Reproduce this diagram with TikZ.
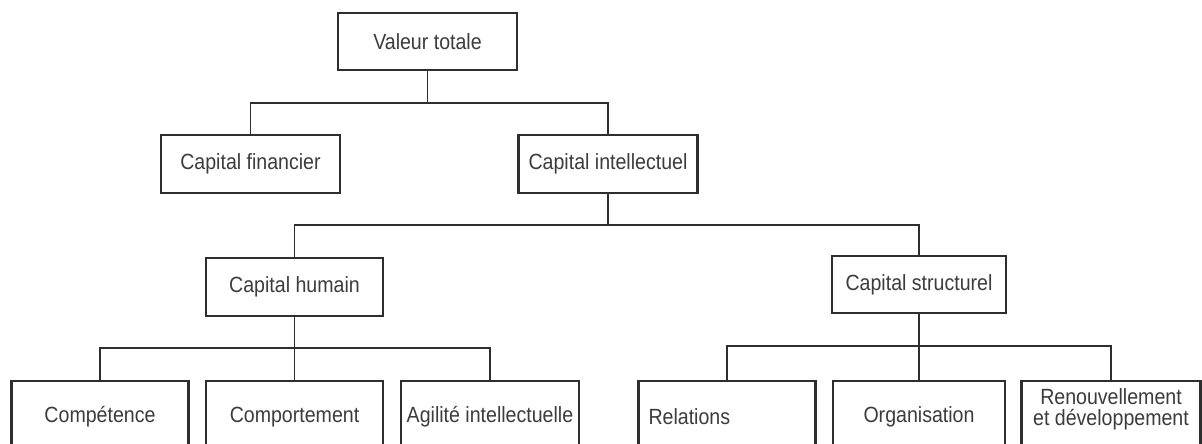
\documentclass[tikz,border=0pt]{standalone}
\usepackage{fontspec}
\setmainfont{Liberation Sans}[FakeStretch=0.89]
\definecolor{linec}{HTML}{2E2E2E}
\definecolor{textc}{HTML}{3C3C3C}
\begin{document}
\begin{tikzpicture}[x=1pt,y=-1pt,
  box/.style={draw=linec, line width=2.1pt, inner sep=0pt, text=textc,
    font=\fontsize{22}{21}\selectfont, minimum height=58pt, align=center},
  leaf/.style={box, anchor=north, minimum height=72pt},
  conn/.style={draw=linec, line width=1.9pt}]
\useasboundingbox (0,0) rectangle (1202,444);
\clip (0,0) rectangle (1202,444);
\fill[white] (0,0) rectangle (1202,444);
% level 0
\node[box, minimum width=179pt, minimum height=57pt] (vt) at (427.5,41.5) {Valeur totale};
% level 1
\node[box, minimum width=179pt] (cf) at (250.5,164) {Capital financier};
\node[box, minimum width=179pt] (ci) at (608,164) {Capital intellectuel};
% level 2
\node[box, minimum width=177pt] (ch) at (294.5,287) {Capital humain};
\node[box, minimum width=174pt, minimum height=57pt] (cs) at (919,284.5) {Capital structurel};
% level 3
\node[leaf, minimum width=177pt] (comp) at (100,380) {Compétence};
\node[leaf, minimum width=177pt] (compt) at (294.5,380) {Comportement};
\node[leaf, minimum width=178pt] (agil) at (490,380) {Agilité intellectuelle};
\node[leaf, minimum width=177pt, inner xsep=10pt, text width=157pt, align=left] (rel) at (727,380) {Relations};
\node[leaf, minimum width=172pt] (org) at (919,380) {Organisation};
\node[leaf, minimum width=179pt] (ren) at (1111,380) {Renouvellement\\et développement\\\mbox{}};
% bus coordinates
\coordinate (b1) at (427.5,103);
\coordinate (b2) at (608,225);
\coordinate (b3) at (294.5,348);
\coordinate (b4) at (919,346);
% connectors
\draw[conn] (vt.south) -- (b1);
\draw[conn] (cf.north) |- (b1) -| (ci.north);
\draw[conn] (ci.south) -- (b2);
\draw[conn] (ch.north) |- (b2) -| (cs.north);
\draw[conn] (ch.south) -- (compt.north);
\draw[conn] (comp.north) |- (b3) -| (agil.north);
\draw[conn] (cs.south) -- (org.north);
\draw[conn] (rel.north) |- (b4) -| (ren.north);
\end{tikzpicture}
\end{document}
